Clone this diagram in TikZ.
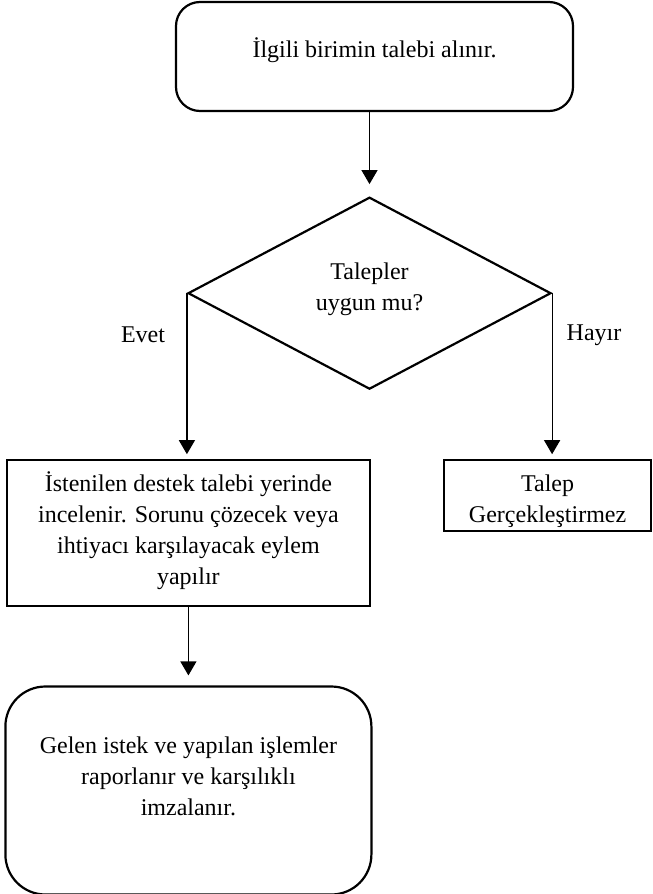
\documentclass[tikz,border=0pt]{standalone}
\usepackage{fontspec}
\setmainfont{Liberation Serif}
\usepackage{tikz}
\usetikzlibrary{shapes.geometric, arrows.meta, positioning}

\begin{document}
\begin{tikzpicture}[
        x=1pt, y=-1pt,
        font=\fontsize{24}{31}\selectfont,
        roundbox/.style={
            rectangle,
            draw=black,
            line width=2.2pt,
            align=center,
            rounded corners=24pt
        },
        block/.style={
            rectangle,
            draw=black,
            line width=2.2pt,
            align=center
        },
        decision/.style={
            diamond,
            draw=black,
            line width=2.2pt,
            align=center,
            aspect=1.9,
            inner sep=0pt,
            minimum width=363pt,
            minimum height=192pt
        },
        line/.style={
            draw,
            line width=1.2pt,
            -{Triangle[width=16pt,length=14pt]}
        }
    ]
        \useasboundingbox (0,0) rectangle (653,894);

        % Nodes
        \node [roundbox, minimum width=397pt, minimum height=109pt] (start) at (374.5,56.5) {İlgili birimin talebi alınır.\rule[-17pt]{0pt}{17pt}};
        \node [decision, below=84pt of start, xshift=-5pt] (check) {Talepler\\uygun mu?\rule[-13pt]{0pt}{13pt}};
        \node [block, minimum width=363pt, minimum height=146pt, below=166pt of check.west, xshift=1.5pt] (work) {İstenilen destek talebi yerinde\\incelenir. Sorunu çözecek veya\\ihtiyacı karşılayacak eylem\\yapılır\rule[-11pt]{0pt}{11pt}};
        \node [block, minimum width=207pt, minimum height=71pt, below=166pt of check.east, xshift=-4.5pt, anchor=north] (reject) {\rule{0pt}{27pt}Talep\\Gerçekleştirmez};
        \node [roundbox, rounded corners=40pt, minimum width=366pt, minimum height=208pt, below=78pt of work] (report) {Gelen istek ve yapılan işlemler\\raporlanır ve karşılıklı\\imzalanır.\rule[-29pt]{0pt}{29pt}};

        % Edges
        \draw [line, shorten >=12pt] (check.north |- start.south) -- (check.north);
        \draw [line, shorten >=5pt] (check.west) -- (check.west |- work.north);
        \draw [line, shorten >=5pt] (check.east) -- (check.east |- reject.north);
        \draw [line, shorten >=10pt] (work.south) -- (work.south |- report.north);

        % Branch labels
        \node (yes) at (143,335) {Evet};
        \node (no) at (594,335) {Hayır};

    \end{tikzpicture}
\end{document}
